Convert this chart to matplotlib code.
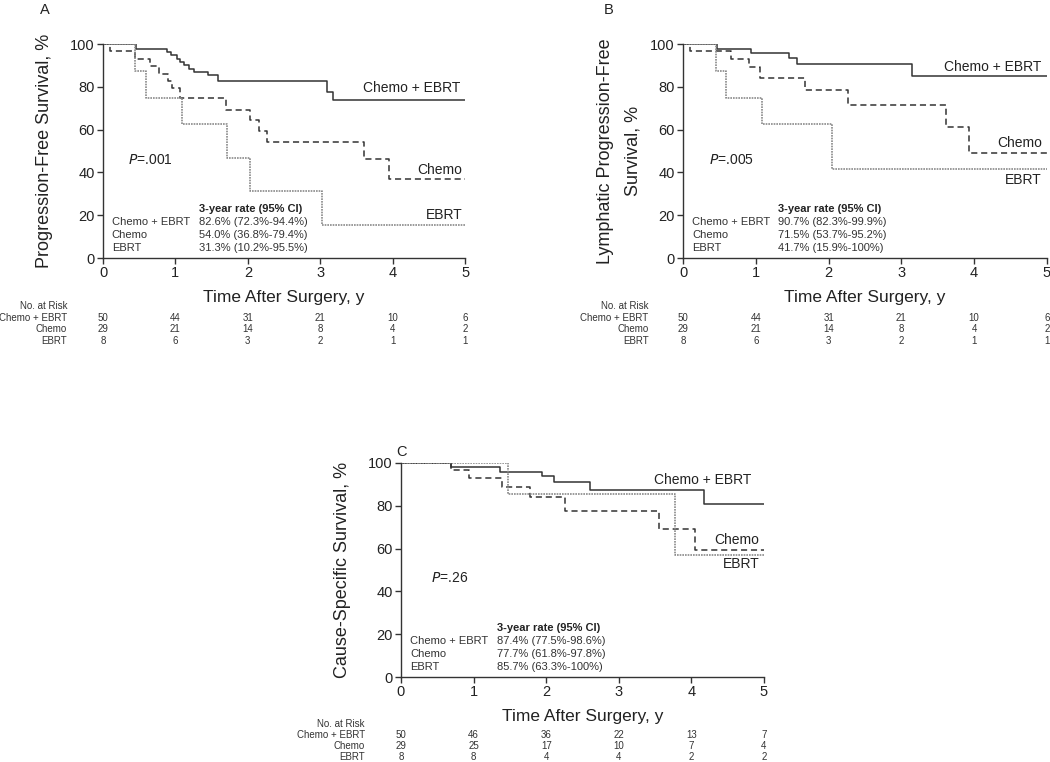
import matplotlib
matplotlib.use('Agg')
import matplotlib.pyplot as plt
import matplotlib.transforms as mtransforms

plt.rcParams['font.family'] = ['Liberation Sans', 'DejaVu Sans']

# ---- data ----
groups = ['Chemo + EBRT', 'Chemo', 'EBRT']
risk_times = [0, 1, 2, 3, 4, 5]

# A: progression-free survival
pfs_combo_t = [0, 0.46, 0.88, 0.935, 1.02, 1.07, 1.12, 1.19, 1.25, 1.45, 1.59, 3.10, 3.17, 5]
pfs_combo_s = [100, 97.8, 96.3, 94.7, 93.1, 91.6, 90.0, 88.5, 86.9, 85.4, 82.6, 77.5, 74.0, 74.0]
pfs_chemo_t = [0, 0.10, 0.44, 0.65, 0.78, 0.90, 0.95, 1.06, 1.70, 2.03, 2.16, 2.27, 3.60, 3.95, 5]
pfs_chemo_s = [100, 96.6, 93.1, 89.7, 86.2, 82.8, 79.3, 75.0, 69.4, 64.4, 59.5, 54.0, 46.3, 37.0, 37.0]
pfs_ebrt_t = [0, 0.44, 0.59, 1.09, 1.71, 2.03, 3.03, 5]
pfs_ebrt_s = [100, 87.5, 75.0, 62.5, 46.9, 31.3, 15.6, 15.6]
pfs_rates = ['82.6% (72.3%-94.4%)', '54.0% (36.8%-79.4%)', '31.3% (10.2%-95.5%)']
pfs_risk = [[50, 44, 31, 21, 10, 6], [29, 21, 14, 8, 4, 2], [8, 6, 3, 2, 1, 1]]
pfs_p = '.001'

# B: lymphatic progression-free survival
lpfs_combo_t = [0, 0.46, 0.94, 1.46, 1.57, 3.15, 5]
lpfs_combo_s = [100, 97.9, 95.7, 93.5, 90.7, 85.0, 85.0]
lpfs_chemo_t = [0, 0.10, 0.655, 0.90, 1.06, 1.68, 2.27, 3.61, 3.93, 5]
lpfs_chemo_s = [100, 96.6, 93.0, 89.4, 84.0, 78.5, 71.5, 61.4, 49.0, 49.0]
lpfs_ebrt_t = [0, 0.45, 0.59, 1.09, 2.04, 5]
lpfs_ebrt_s = [100, 87.5, 75.0, 62.5, 41.7, 41.7]
lpfs_rates = ['90.7% (82.3%-99.9%)', '71.5% (53.7%-95.2%)', '41.7% (15.9%-100%)']
lpfs_risk = [[50, 44, 31, 21, 10, 6], [29, 21, 14, 8, 4, 2], [8, 6, 3, 2, 1, 1]]
lpfs_p = '.005'

# C: cause-specific survival
css_combo_t = [0, 0.685, 1.36, 1.94, 2.11, 2.60, 4.17, 5]
css_combo_s = [100, 98.0, 96.0, 93.7, 90.9, 87.4, 80.7, 80.7]
css_chemo_t = [0, 0.685, 0.93, 1.39, 1.78, 2.26, 3.55, 4.05, 5]
css_chemo_s = [100, 96.6, 93.1, 89.0, 84.0, 77.7, 69.1, 59.2, 59.2]
css_ebrt_t = [0, 1.48, 3.77, 5]
css_ebrt_s = [100, 85.7, 57.1, 57.1]
css_rates = ['87.4% (77.5%-98.6%)', '77.7% (61.8%-97.8%)', '85.7% (63.3%-100%)']
css_risk = [[50, 46, 36, 22, 13, 7], [29, 25, 17, 10, 7, 4], [8, 8, 4, 4, 2, 2]]
css_p = '.26'

txt = '#222222'
styles = [dict(color='#333333', lw=1.1, ls='-'),
          dict(color='#333333', lw=1.1, ls=(0, (4, 2.5))),
          dict(color='#8a8a8a', lw=1.2, ls=(0, (1, 0.6)))]

fig = plt.figure(figsize=(10.5, 7.62), dpi=100)


def panel(rect, curves, rates, risk, pval, ylabel, letter, letter_xy,
          curve_lbl, risk_lbl_x, tbl_x, p_xy, rows_y, ypad=12, yls=1.55):
    ax = fig.add_axes(rect)
    for (t, s), st in zip(curves, styles):
        ax.step(t, s, where='post', **st)
    ax.set_xlim(0, 5)
    ax.set_ylim(0, 100)
    ax.set_xticks(risk_times)
    ax.set_yticks([0, 20, 40, 60, 80, 100])
    for sp in ['top', 'right']:
        ax.spines[sp].set_visible(False)
    for sp in ['left', 'bottom']:
        ax.spines[sp].set_color('#333333')
        ax.spines[sp].set_linewidth(1.0)
    ax.tick_params(direction='out', length=4, width=1, colors='#333333',
                   labelsize=10.5, labelcolor=txt, pad=2)
    ax.set_xlabel('Time After Surgery, y', fontsize=12.5, color=txt, labelpad=7)
    ax.set_ylabel(ylabel, fontsize=13, color=txt, labelpad=ypad, linespacing=yls)

    # curve labels
    for name, (lx, ly) in zip(groups, curve_lbl):
        ax.text(lx, ly, name, ha='right', va='center', fontsize=10, color=txt)

    # p value
    ax.text(p_xy[0], p_xy[1], '$\\it{P}$=' + pval, fontsize=10, color=txt,
            ha='left', va='center', math_fontfamily='dejavusans')

    # 3-year rate block
    ax.text(tbl_x[1], 22.8, '3-year rate (95% CI)', fontsize=8, fontweight='bold',
            color=txt, ha='left', va='center')
    for i, (name, r) in enumerate(zip(groups, rates)):
        y = 16.9 - 6.1 * i
        ax.text(tbl_x[0], y, name, fontsize=8, color='#333333', ha='left', va='center')
        ax.text(tbl_x[1], y, r, fontsize=8, color='#333333', ha='left', va='center')

    # numbers at risk
    trans = mtransforms.blended_transform_factory(ax.transData, ax.transAxes)
    ftrans = mtransforms.blended_transform_factory(fig.transFigure, ax.transAxes)
    fig.text(risk_lbl_x, rows_y[0], 'No. at Risk', transform=ftrans, fontsize=7,
             color='#333333', ha='right', va='center')
    for name, counts, y in zip(groups, risk, rows_y[1:]):
        fig.text(risk_lbl_x, y, name, transform=ftrans, fontsize=7,
                 color='#333333', ha='right', va='center')
        for t, n in zip(risk_times, counts):
            ax.text(t, y, str(n), transform=trans, fontsize=7, color='#333333',
                    ha='center', va='center', clip_on=False)

    fig.text(letter_xy[0], letter_xy[1], letter, fontsize=10.5, color=txt,
             ha='left', va='center')
    return ax


top_rows = [-0.226, -0.280, -0.334, -0.388]
bottom_rows = [-0.220, -0.272, -0.324, -0.374]

panel([0.0981, 0.6614, 0.3448, 0.2808],
      [(pfs_combo_t, pfs_combo_s), (pfs_chemo_t, pfs_chemo_s), (pfs_ebrt_t, pfs_ebrt_s)],
      pfs_rates, pfs_risk, pfs_p, 'Progression-Free Survival, %', 'A', (0.038, 0.987),
      [(4.93, 79.5), (4.96, 41.0), (4.96, 20.0)], 0.0640, (0.12, 1.32), (0.35, 45.8),
      top_rows)

panel([0.6505, 0.6614, 0.3466, 0.2808],
      [(lpfs_combo_t, lpfs_combo_s), (lpfs_chemo_t, lpfs_chemo_s), (lpfs_ebrt_t, lpfs_ebrt_s)],
      lpfs_rates, lpfs_risk, lpfs_p, 'Lymphatic Progression-Free\nSurvival, %', 'B',
      (0.575, 0.987),
      [(4.93, 89.4), (4.93, 53.6), (4.93, 36.4)], 0.6175, (0.13, 1.31), (0.35, 45.8),
      top_rows, ypad=6, yls=1.85)

panel([0.3819, 0.1115, 0.3457, 0.2809],
      [(css_combo_t, css_combo_s), (css_chemo_t, css_chemo_s), (css_ebrt_t, css_ebrt_s)],
      css_rates, css_risk, css_p, 'Cause-Specific Survival, %', 'C', (0.377, 0.407),
      [(4.83, 92.0), (4.94, 64.0), (4.94, 52.7)], 0.3476, (0.13, 1.32), (0.42, 46.3),
      bottom_rows)

fig.savefig('out.png', dpi=100)
